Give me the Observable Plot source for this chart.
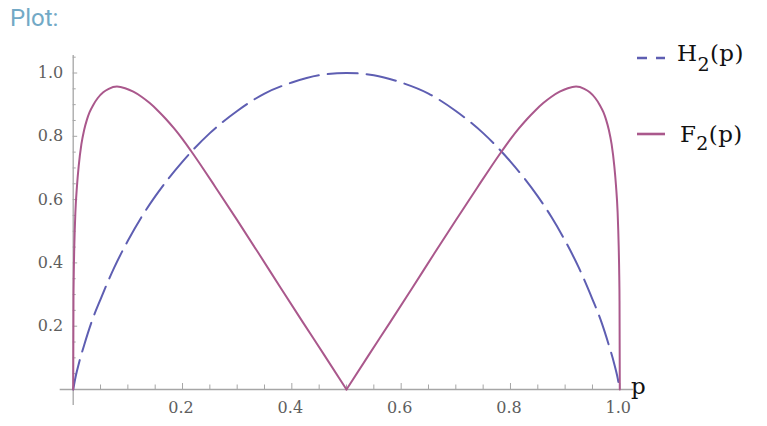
<!DOCTYPE html>
<html><head><meta charset="utf-8">
<script src="https://cdn.jsdelivr.net/npm/d3@7"></script>
<script src="https://cdn.jsdelivr.net/npm/@observablehq/plot@0.6"></script>
<style>
body{margin:0;background:#fff;}
#wrap{position:relative;width:767px;height:426px;overflow:hidden;background:#fff;}
#title{position:absolute;left:10px;top:6px;font-family:Roboto,sans-serif;font-size:24px;line-height:1;color:#72a9c6;}
#legend{position:absolute;left:0;top:0;}
</style></head><body>
<div id="wrap"></div>
<script>
// ---- data ----
const hP = [0, 0.005, 0.01, 0.02, 0.035, 0.05, 0.075, 0.1, 0.125, 0.15, 0.2, 0.25, 0.3, 0.35, 0.4, 0.45, 0.5,
            0.55, 0.6, 0.65, 0.7, 0.75, 0.8, 0.85, 0.875, 0.9, 0.925, 0.95, 0.965, 0.98, 0.99, 0.995, 1];
const hV = [0, 0.045, 0.08, 0.14, 0.22, 0.285, 0.385, 0.47, 0.545, 0.61, 0.72, 0.81, 0.88, 0.935, 0.97, 0.993, 1.0,
            0.993, 0.97, 0.935, 0.88, 0.81, 0.72, 0.61, 0.545, 0.47, 0.385, 0.285, 0.22, 0.14, 0.08, 0.045, 0];

const fLeftP = [0, 0.0005, 0.001, 0.002, 0.004, 0.007, 0.01, 0.015, 0.02, 0.025, 0.03, 0.037, 0.045, 0.055, 0.065,
                0.08, 0.095, 0.11, 0.125, 0.14, 0.155, 0.17, 0.185, 0.2, 0.215, 0.24, 0.26, 0.3, 0.34, 0.38, 0.42, 0.46, 0.5];
const fLeftV = [0, 0.28, 0.36, 0.45, 0.56, 0.645, 0.705, 0.775, 0.82, 0.852, 0.876, 0.90, 0.921, 0.939, 0.95,
                0.957, 0.952, 0.941, 0.925, 0.905, 0.881, 0.854, 0.824, 0.791, 0.755, 0.692, 0.640, 0.535, 0.428, 0.320, 0.213, 0.107, 0];
const fRightP = [0.5, 0.54, 0.58, 0.62, 0.66, 0.70, 0.74, 0.76, 0.785, 0.80, 0.815, 0.83, 0.845, 0.86, 0.875, 0.89,
                 0.905, 0.92, 0.935, 0.945, 0.955, 0.963, 0.97, 0.975, 0.98, 0.985, 0.99, 0.993, 0.996, 0.998, 0.999, 0.9995, 1];
const fRightV = [0, 0.107, 0.213, 0.320, 0.428, 0.535, 0.640, 0.692, 0.755, 0.791, 0.824, 0.854, 0.881, 0.905, 0.925, 0.941,
                 0.952, 0.957, 0.95, 0.939, 0.921, 0.90, 0.876, 0.852, 0.82, 0.775, 0.705, 0.645, 0.56, 0.45, 0.36, 0.28, 0];

const majorTicks = [0.2, 0.4, 0.6, 0.8, 1.0];
const majorTickLabels = ["0.2", "0.4", "0.6", "0.8", "1.0"];
const xMinorTicks = [0.05, 0.1, 0.15, 0.25, 0.3, 0.35, 0.45, 0.5, 0.55, 0.65, 0.7, 0.75, 0.85, 0.9, 0.95];
const yMinorTicks = [0.05, 0.1, 0.15, 0.25, 0.3, 0.35, 0.45, 0.5, 0.55, 0.65, 0.7, 0.75, 0.85, 0.9, 0.95, 1.05];

// ---- build tables ----
const hRows = hP.map((p, i) => ({p, v: hV[i]}));
const fRows = [
  ...fLeftP.map((p, i) => ({p, v: fLeftV[i], seg: "a"})),
  ...fRightP.map((p, i) => ({p, v: fRightV[i], seg: "b"}))
];
const labelRows = majorTicks.map((t, i) => ({t, label: majorTickLabels[i]}));

// ---- layout ----
const W = 767, H = 426;
const mL = 72.7, mR = 147.7, mT = 72.5, mB = 37;
const pxX = 1 / (W - mL - mR);   // data units per pixel, x
const pxY = 1 / (H - mT - mB);   // data units per pixel, y

const H_COLOR = "#5e5eb2";
const F_COLOR = "#aa588c";
const AX = "#a6a6a6";
const LABEL_FONT = "DejaVu Serif";

const chart = Plot.plot({
  width: W, height: H,
  marginLeft: mL, marginRight: mR, marginTop: mT, marginBottom: mB,
  x: {domain: [0, 1], axis: null},
  y: {domain: [0, 1], axis: null},
  style: {background: "transparent", overflow: "visible"},
  marks: [
    // axes lines
    Plot.ruleY([0], {x1: -13 * pxX, x2: 1 + 14 * pxX, stroke: AX, strokeWidth: 1.3}),
    Plot.ruleX([0], {y1: -16 * pxY, y2: 1 + 17.5 * pxY, stroke: AX, strokeWidth: 1.3}),
    // x ticks (pointing up)
    Plot.ruleX(xMinorTicks, {y1: 0, y2: 4.5 * pxY, stroke: AX, strokeWidth: 1}),
    Plot.ruleX(majorTicks, {y1: 0, y2: 6 * pxY, stroke: AX, strokeWidth: 1}),
    // y ticks (pointing right)
    Plot.ruleY(yMinorTicks, {x1: 0, x2: 3 * pxX, stroke: AX, strokeWidth: 1}),
    Plot.ruleY(majorTicks, {x1: 0, x2: 4.5 * pxX, stroke: AX, strokeWidth: 1}),
    // tick labels
    Plot.text(labelRows, {x: "t", y: 0, text: "label", dy: 18, dx: -1.5, fontFamily: LABEL_FONT, fontSize: 16,
      fill: "#5e5e5e", letterSpacing: "1px"}),
    Plot.text(labelRows, {x: 0, y: "t", text: "label", dx: -10, textAnchor: "end", fontFamily: LABEL_FONT,
      fontSize: 16, fill: "#5e5e5e", letterSpacing: "1px"}),
    // curves
    Plot.line(hRows, {x: "p", y: "v", curve: "monotone-x", stroke: H_COLOR, strokeWidth: 2,
      strokeDasharray: "30,9"}),
    Plot.line(fRows, {x: "p", y: "v", z: "seg", curve: "monotone-x", stroke: F_COLOR, strokeWidth: 2})
  ]
});

const wrap = document.getElementById("wrap");
wrap.appendChild(chart);

// title
const title = document.createElement("div");
title.id = "title";
title.textContent = "Plot:";
wrap.appendChild(title);

// legend + axis label overlay
const ns = "http://www.w3.org/2000/svg";
const leg = document.createElementNS(ns, "svg");
leg.setAttribute("id", "legend");
leg.setAttribute("width", W);
leg.setAttribute("height", H);
leg.innerHTML = `
  <line x1="637" x2="665" y1="58" y2="58" stroke="${H_COLOR}" stroke-width="2.6" stroke-dasharray="10,9"/>
  <text x="677" y="61" font-family="DejaVu Serif" font-size="23" fill="#111" letter-spacing="0.4">H<tspan dy="9.5" font-size="19">2</tspan><tspan dy="-9.5">(p)</tspan></text>
  <line x1="637" x2="665" y1="134" y2="134" stroke="${F_COLOR}" stroke-width="2.6"/>
  <text x="680" y="141.5" font-family="DejaVu Serif" font-size="23" fill="#111" letter-spacing="0.4">F<tspan dy="8" font-size="19">2</tspan><tspan dy="-8">(p)</tspan></text>
  <text x="631" y="394" font-family="DejaVu Serif" font-size="23" fill="#111">p</text>
`;
wrap.appendChild(leg);
</script>
</body></html>
